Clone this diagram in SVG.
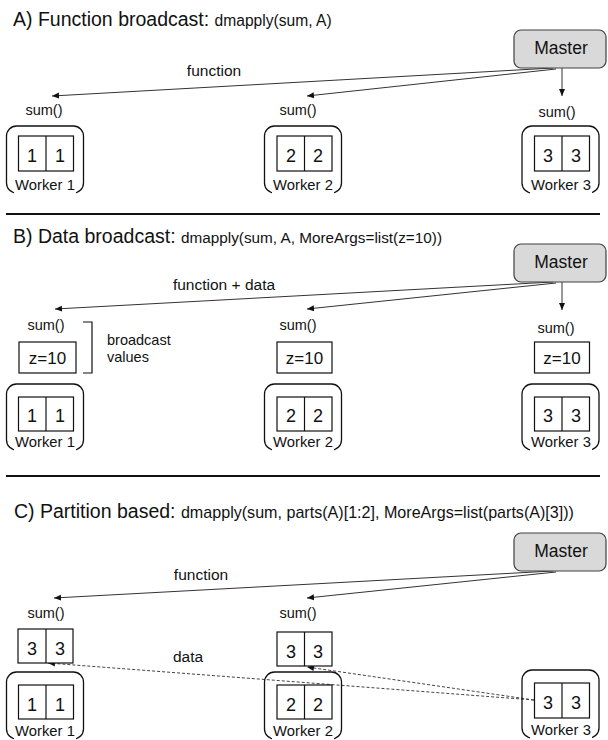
<svg xmlns="http://www.w3.org/2000/svg" width="608" height="740" viewBox="0 0 608 740">
<style>
text{font-family:"Liberation Sans",Arial,sans-serif;fill:#111}
.title{font-size:19.5px}
.lbl{font-size:15.5px}
.sum{font-size:14.5px;text-anchor:middle}
.lft{font-size:14.5px;text-anchor:start}
.wk{font-size:14.8px;text-anchor:middle}
.dig{font-size:18px;text-anchor:middle}
.z{font-size:17px;text-anchor:middle}
.mtext{font-size:17.5px;text-anchor:middle}
.master{fill:#d9d9d9;stroke:#404040;stroke-width:1.2}
.wbox{fill:none;stroke:#111;stroke-width:1.3}
.cell{fill:#fff;stroke:#111;stroke-width:1.2}
.mask{fill:#fff;stroke:none}
.sep{stroke:#111;stroke-width:1.8}
.arr{fill:none;stroke:#333;stroke-width:1;marker-end:url(#ah)}
.dash{fill:none;stroke:#444;stroke-width:1;stroke-dasharray:3 2;marker-end:url(#ah)}
.brk{fill:none;stroke:#111;stroke-width:1.2}
</style>
<defs>
<marker id="ah" markerWidth="8" markerHeight="8" refX="7" refY="4" orient="auto" markerUnits="userSpaceOnUse"><path d="M0,1 L7,4 L0,7 z" fill="#111"/></marker>
</defs>
<rect width="608" height="740" fill="#fff"/>

<!-- Section titles and separators -->
<g id="titles">
<text x="13" y="26"><tspan class="title">A) Function broadcast: </tspan><tspan style="font-size:15.6px">dmapply(sum, A)</tspan></text>
<text x="13" y="243"><tspan class="title">B) Data broadcast: </tspan><tspan style="font-size:15.3px">dmapply(sum, A, MoreArgs=list(z=10))</tspan></text>
<text x="14" y="518"><tspan class="title">C) Partition based: </tspan><tspan style="font-size:16.1px">dmapply(sum, parts(A)[1:2], MoreArgs=list(parts(A)[3]))</tspan></text>
<line class="sep" x1="6" y1="214" x2="600" y2="214"/>
<line class="sep" x1="6" y1="476" x2="600" y2="476"/>
</g>

<!-- Connectors -->
<g id="connectors">
<path class="arr" d="M553,68 L52,96"/>
<path class="arr" d="M556,69 L307,96"/>
<path class="arr" d="M562,68 L562,96"/>
<path class="arr" d="M553,282 L55,309"/>
<path class="arr" d="M556,283 L307,309"/>
<path class="arr" d="M562,282 L562,310"/>
<path class="arr" d="M553,571 L54,598"/>
<path class="arr" d="M556,572 L307,598"/>
<path class="dash" d="M534,700 L48,663"/>
<path class="dash" d="M534,700 L307,667"/>
<text class="lbl" x="214" y="76" text-anchor="middle">function</text>
<text class="lbl" x="224" y="290" text-anchor="middle">function + data</text>
<text class="lbl" x="201" y="580" text-anchor="middle">function</text>
<text class="lbl" x="188" y="662" text-anchor="middle">data</text>
</g>

<!-- Section A -->
<g id="A-master"><rect class="master" x="514" y="30" width="92" height="38" rx="7"/><text class="mtext" x="561" y="54">Master</text></g>
<g id="A-worker1">
<text class="sum" x="44" y="115">sum()</text>
<rect class="wbox" x="6.5" y="126" width="77" height="67" rx="10"/>
<rect class="cell" x="18.5" y="136" width="55" height="35"/><line class="brk" x1="46" y1="136" x2="46" y2="171"/>
<text class="dig" x="32" y="162">1</text><text class="dig" x="60" y="162">1</text>
<rect class="mask" x="14" y="190" width="62" height="5"/><text class="wk" x="45" y="190">Worker 1</text>
</g>
<g id="A-worker2">
<text class="sum" x="298" y="115">sum()</text>
<rect class="wbox" x="264.5" y="126" width="77" height="67" rx="10"/>
<rect class="cell" x="277" y="136" width="55" height="35"/><line class="brk" x1="304.5" y1="136" x2="304.5" y2="171"/>
<text class="dig" x="291" y="162">2</text><text class="dig" x="318" y="162">2</text>
<rect class="mask" x="272" y="190" width="62" height="5"/><text class="wk" x="303" y="190">Worker 2</text>
</g>
<g id="A-worker3">
<text class="sum" x="557" y="117">sum()</text>
<rect class="wbox" x="522" y="126" width="77" height="67" rx="10"/>
<rect class="cell" x="534.5" y="136" width="55" height="35"/><line class="brk" x1="562" y1="136" x2="562" y2="171"/>
<text class="dig" x="548" y="162">3</text><text class="dig" x="576" y="162">3</text>
<rect class="mask" x="530" y="190" width="62" height="5"/><text class="wk" x="561" y="190">Worker 3</text>
</g>

<!-- Section B -->
<g id="B-master"><rect class="master" x="514" y="244" width="92" height="38" rx="7"/><text class="mtext" x="561" y="268">Master</text></g>
<g id="B-worker1">
<text class="sum" x="46" y="330">sum()</text>
<rect class="cell" x="19" y="342" width="57" height="31"/><text class="z" x="47.5" y="364">z=10</text>
<path class="brk" d="M83,322 H92 V373 H83"/>
<text class="lft" x="107" y="345">broadcast</text>
<text class="lft" x="107" y="362">values</text>
<rect class="wbox" x="6.5" y="384" width="77" height="66" rx="10"/>
<rect class="cell" x="18.5" y="397" width="55" height="34"/><line class="brk" x1="46" y1="397" x2="46" y2="431"/>
<text class="dig" x="32" y="422">1</text><text class="dig" x="60" y="422">1</text>
<rect class="mask" x="14" y="447" width="62" height="5"/><text class="wk" x="45" y="447">Worker 1</text>
</g>
<g id="B-worker2">
<text class="sum" x="298" y="330">sum()</text>
<rect class="cell" x="277" y="342" width="55" height="31"/><text class="z" x="304.5" y="364">z=10</text>
<rect class="wbox" x="264.5" y="384" width="77" height="66" rx="10"/>
<rect class="cell" x="277" y="397" width="55" height="34"/><line class="brk" x1="304.5" y1="397" x2="304.5" y2="431"/>
<text class="dig" x="291" y="422">2</text><text class="dig" x="318" y="422">2</text>
<rect class="mask" x="272" y="447" width="62" height="5"/><text class="wk" x="303" y="447">Worker 2</text>
</g>
<g id="B-worker3">
<text class="sum" x="556" y="333">sum()</text>
<rect class="cell" x="534.5" y="342" width="55" height="31"/><text class="z" x="562" y="364">z=10</text>
<rect class="wbox" x="522" y="384" width="77" height="66" rx="10"/>
<rect class="cell" x="534.5" y="397" width="55" height="34"/><line class="brk" x1="562" y1="397" x2="562" y2="431"/>
<text class="dig" x="548" y="422">3</text><text class="dig" x="576" y="422">3</text>
<rect class="mask" x="530" y="447" width="62" height="5"/><text class="wk" x="561" y="447">Worker 3</text>
</g>

<!-- Section C -->
<g id="C-master"><rect class="master" x="514" y="533" width="92" height="38" rx="7"/><text class="mtext" x="561" y="557">Master</text></g>
<g id="C-worker1">
<text class="sum" x="46" y="618">sum()</text>
<rect class="cell" x="18" y="629" width="55" height="34"/><line class="brk" x1="46" y1="629" x2="46" y2="663"/>
<text class="dig" x="32" y="655">3</text><text class="dig" x="60" y="655">3</text>
<rect class="wbox" x="6.5" y="672" width="77" height="67" rx="10"/>
<rect class="cell" x="18.5" y="685" width="55" height="34"/><line class="brk" x1="46" y1="685" x2="46" y2="719"/>
<text class="dig" x="32" y="711">1</text><text class="dig" x="60" y="711">1</text>
<rect class="mask" x="14" y="736" width="62" height="5"/><text class="wk" x="45" y="736">Worker 1</text>
</g>
<g id="C-worker2">
<text class="sum" x="298" y="618">sum()</text>
<rect class="cell" x="277" y="632" width="55" height="34"/><line class="brk" x1="304.5" y1="632" x2="304.5" y2="666"/>
<text class="dig" x="291" y="658">3</text><text class="dig" x="318" y="658">3</text>
<rect class="wbox" x="264.5" y="672" width="77" height="67" rx="10"/>
<rect class="cell" x="277" y="685" width="55" height="34"/><line class="brk" x1="304.5" y1="685" x2="304.5" y2="719"/>
<text class="dig" x="291" y="711">2</text><text class="dig" x="318" y="711">2</text>
<rect class="mask" x="272" y="736" width="62" height="5"/><text class="wk" x="303" y="736">Worker 2</text>
</g>
<g id="C-worker3">
<rect class="wbox" x="522" y="670" width="77" height="68" rx="10"/>
<rect class="cell" x="534.5" y="683" width="55" height="35"/><line class="brk" x1="562" y1="683" x2="562" y2="718"/>
<text class="dig" x="548" y="709">3</text><text class="dig" x="576" y="709">3</text>
<rect class="mask" x="530" y="735" width="62" height="5"/><text class="wk" x="561" y="735">Worker 3</text>
</g>
</svg>
